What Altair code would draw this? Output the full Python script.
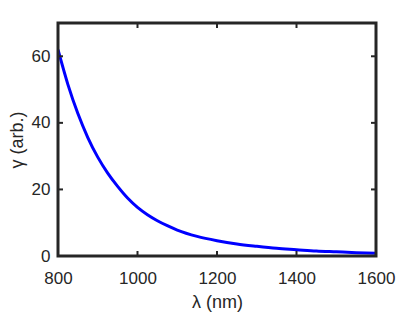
import altair as alt
import pandas as pd

# Curve
wavelength = [800, 825, 850, 875, 900, 925, 950, 975, 1000, 1025, 1050, 1075, 1100,
              1150, 1200, 1250, 1300, 1350, 1400, 1450, 1500, 1550, 1600]
gamma = [62.0, 51.5, 42.8, 35.6, 29.7, 24.9, 20.9, 17.4, 14.6, 12.4, 10.6, 9.1, 7.8,
         5.9, 4.6, 3.6, 2.9, 2.3, 1.9, 1.5, 1.25, 1.0, 0.8]

x_ticks = [800, 1000, 1200, 1400, 1600]
y_ticks = [0, 20, 40, 60]
x_inner = [1000, 1200, 1400]
y_inner = [20, 40, 60]

W, H = 318, 233
FONT = "Liberation Sans"
DARK = "#262626"

df = pd.DataFrame({"wl": wavelength, "g": gamma})
xs = alt.Scale(domain=[800, 1600], nice=False, zero=False)
ys = alt.Scale(domain=[0, 70], nice=False)

line = alt.Chart(df).mark_line(color="#0000FF", strokeWidth=3, clip=True,
                               interpolate="monotone").encode(
    x=alt.X("wl:Q", scale=xs,
            axis=alt.Axis(title="λ (nm)", values=x_ticks, format="d", ticks=False,
                          domain=False, grid=False, labelFont=FONT, labelFontSize=17,
                          labelColor=DARK, labelPadding=14, titleFont=FONT,
                          titleFontSize=18, titleFontWeight="normal", titleColor=DARK,
                          titlePadding=7, labelFlush=False)),
    y=alt.Y("g:Q", scale=ys,
            axis=alt.Axis(title="γ (arb.)", values=y_ticks, format="d", ticks=False,
                          domain=False, grid=False, labelFont=FONT, labelFontSize=17,
                          labelColor=DARK, labelPadding=8, titleFont=FONT,
                          titleFontSize=18, titleFontWeight="normal", titleColor=DARK,
                          titlePadding=5, labelFlush=False)),
)

xt = pd.DataFrame({"wl": x_inner})
yt = pd.DataFrame({"g": y_inner})

bottom_ticks = alt.Chart(xt).mark_rule(color=DARK, strokeWidth=2).encode(
    x=alt.X("wl:Q", scale=xs), y=alt.value(H), y2=alt.value(H - 5))
top_ticks = alt.Chart(xt).mark_rule(color=DARK, strokeWidth=2).encode(
    x=alt.X("wl:Q", scale=xs), y=alt.value(0), y2=alt.value(5))
left_ticks = alt.Chart(yt).mark_rule(color=DARK, strokeWidth=2).encode(
    y=alt.Y("g:Q", scale=ys), x=alt.value(0), x2=alt.value(5))
right_ticks = alt.Chart(yt).mark_rule(color=DARK, strokeWidth=2).encode(
    y=alt.Y("g:Q", scale=ys), x=alt.value(W), x2=alt.value(W - 5))

frame = alt.Chart(pd.DataFrame({"k": [0]})).mark_rect(
    filled=False, stroke=DARK, strokeWidth=3).encode(
    x=alt.value(0), x2=alt.value(W), y=alt.value(0), y2=alt.value(H))

chart = alt.layer(line, bottom_ticks, top_ticks, left_ticks, right_ticks, frame).properties(
    width=W, height=H,
    autosize=alt.AutoSizeParams(type="none"),
    padding={"left": 50, "top": 15, "right": 30, "bottom": 60},
).configure_view(stroke=None).configure(background="white")

chart.save("out.html", embed_options={"renderer": "svg", "actions": False})
